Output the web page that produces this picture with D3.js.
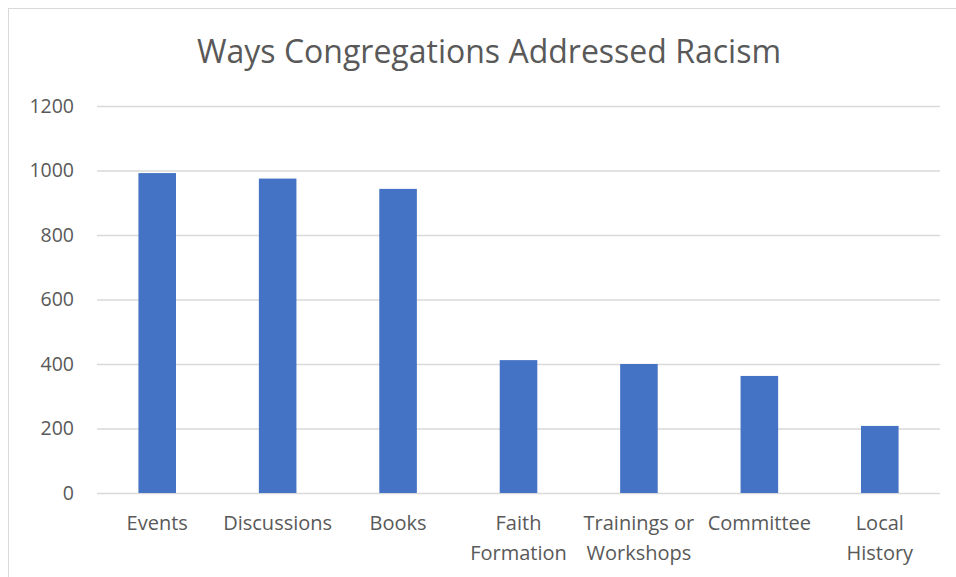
<!DOCTYPE html>
<html>
<head>
<meta charset="utf-8">
<script src="https://cdn.jsdelivr.net/npm/d3@7"></script>
<style>
  html, body { margin: 0; padding: 0; background: #fff; }
  svg { display: block; }
  text { font-family: "Open Sans", "Liberation Sans", sans-serif; fill: #595959; }
</style>
</head>
<body>
<svg id="chart" width="956" height="577"></svg>
<script>
// Survey responses per approach
const categories = [
  ["Events"],
  ["Discussions"],
  ["Books"],
  ["Faith", "Formation"],
  ["Trainings or", "Workshops"],
  ["Committee"],
  ["Local", "History"]
];
const counts = [992, 975, 943, 412, 400, 363, 208];
const yTicks = [0, 200, 400, 600, 800, 1000, 1200];
const title = "Ways Congregations Addressed Racism";

const W = 956, H = 577;
const margin = { left: 97, right: 16, top: 106, bottom: 84 };
const svg = d3.select("#chart");

// Chart-area frame
svg.append("rect")
  .attr("x", 8.5).attr("y", 8.5)
  .attr("width", W + 10).attr("height", H + 10)
  .attr("fill", "none").attr("stroke", "#d9d9d9").attr("stroke-width", 1);

const x = d3.scaleBand()
  .domain(d3.range(categories.length))
  .range([margin.left, W - margin.right])
  .paddingInner(0.688).paddingOuter(0.344);

const y = d3.scaleLinear()
  .domain([0, 1200])
  .range([H - margin.bottom, margin.top]);

// Horizontal gridlines and value labels
const yAxis = d3.axisLeft(y)
  .tickValues(yTicks)
  .tickFormat(d3.format("d"))
  .tickSize(-(W - margin.right - margin.left))
  .tickPadding(23);
const gy = svg.append("g")
  .attr("transform", `translate(${margin.left},0)`)
  .call(yAxis);
gy.select(".domain").remove();
gy.selectAll(".tick line").attr("stroke", "#d9d9d9").attr("stroke-width", 1.5);
gy.selectAll(".tick text")
  .attr("fill", "#595959")
  .style("font-size", "19.5px");

// Bars
svg.append("g").selectAll("rect")
  .data(counts)
  .join("rect")
  .attr("x", (d, i) => x(i))
  .attr("width", x.bandwidth())
  .attr("y", d => y(d))
  .attr("height", d => y(0) - y(d))
  .attr("fill", "#4472C4");

// Category labels
const labels = svg.append("g").selectAll("text")
  .data(categories)
  .join("text")
  .attr("text-anchor", "middle")
  .style("font-size", "20px")
  .attr("x", (d, i) => x(i) + x.bandwidth() / 2)
  .attr("y", 530);
labels.selectAll("tspan")
  .data(d => d)
  .join("tspan")
  .attr("x", function () { return d3.select(this.parentNode).attr("x"); })
  .attr("dy", (d, i) => i === 0 ? 0 : 30)
  .text(d => d);

// Title
svg.append("text")
  .attr("x", 489).attr("y", 63)
  .attr("text-anchor", "middle")
  .style("font-size", "32px")
  .text(title);
</script>
</body>
</html>
